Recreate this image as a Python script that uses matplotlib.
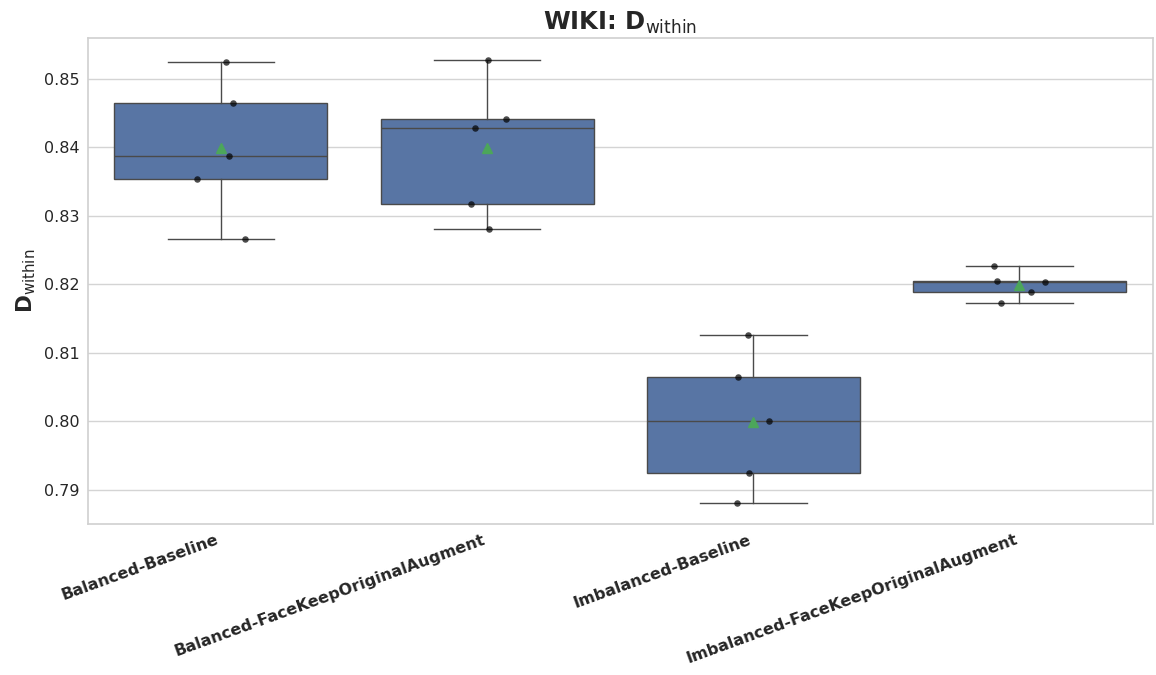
import matplotlib
matplotlib.use("Agg")
import matplotlib.pyplot as plt
import numpy as np

# Per-run D_within scores for each training setup
categories = [
    "Balanced-Baseline",
    "Balanced-FaceKeepOriginalAugment",
    "Imbalanced-Baseline",
    "Imbalanced-FaceKeepOriginalAugment",
]
balanced_baseline = [0.85248, 0.84650, 0.83876, 0.83540, 0.82664]
balanced_fkoa = [0.85277, 0.84416, 0.84285, 0.83175, 0.82810]
imbalanced_baseline = [0.81263, 0.80650, 0.80007, 0.79248, 0.78810]
imbalanced_fkoa = [0.82270, 0.82051, 0.82036, 0.81891, 0.81730]
series = [balanced_baseline, balanced_fkoa, imbalanced_baseline, imbalanced_fkoa]

# Horizontal jitter applied to the strip points
jitter = [
    [0.019, 0.045, 0.030, -0.090, 0.090],
    [0.004, 0.071, -0.045, -0.060, 0.007],
    [-0.019, -0.056, 0.060, -0.015, -0.060],
    [-0.094, -0.086, 0.097, 0.045, -0.071],
]

plt.rcParams["font.family"] = ["DejaVu Sans"]
fig, ax = plt.subplots(figsize=(11.56, 6.75), dpi=100)
fig.subplots_adjust(left=0.076, right=0.997, top=0.944, bottom=0.224)

edge = "#4a4a4a"
positions = np.arange(len(categories))
ax.boxplot(
    series,
    positions=positions,
    widths=0.8,
    patch_artist=True,
    showmeans=True,
    whis=1.5,
    showfliers=False,
    boxprops=dict(facecolor="#5875a4", edgecolor=edge, linewidth=1.0),
    medianprops=dict(color=edge, linewidth=1.0),
    whiskerprops=dict(color=edge, linewidth=1.0),
    capprops=dict(color=edge, linewidth=1.0),
    meanprops=dict(marker="^", markerfacecolor="#4ca65a", markeredgecolor="#4ca65a", markersize=6.5),
    zorder=2,
)

for i, (vals, offs) in enumerate(zip(series, jitter)):
    ax.scatter(np.full(len(vals), i) + np.array(offs), vals, s=22, color="black",
               alpha=0.7, linewidths=0, zorder=4)

ax.set_xlim(-0.5, 3.5)
ax.set_ylim(0.78504, 0.85599)
ax.set_yticks([0.79, 0.80, 0.81, 0.82, 0.83, 0.84, 0.85])
ax.set_yticklabels(["0.79", "0.80", "0.81", "0.82", "0.83", "0.84", "0.85"], fontsize=11.5, color="#262626")
ax.set_xticks(positions)
ax.set_xticklabels(categories, rotation=20, ha="right", fontsize=11.5, fontweight="bold", color="#262626")
ax.tick_params(axis="both", length=0, pad=6)

ax.grid(axis="y", color="#d4d4d4", linewidth=1.0, zorder=0)
ax.set_axisbelow(True)
for sp in ax.spines.values():
    sp.set_color("#d0d0d0")
    sp.set_linewidth(1.2)

ax.set_ylabel(r"$\mathbf{D}_{\mathrm{within}}$", fontsize=15.5, color="#262626")
ax.set_title(r"WIKI: $\mathbf{D}_{\mathrm{within}}$", fontsize=17.5, fontweight="bold", color="#262626")

fig.savefig("out.png", dpi=100)
